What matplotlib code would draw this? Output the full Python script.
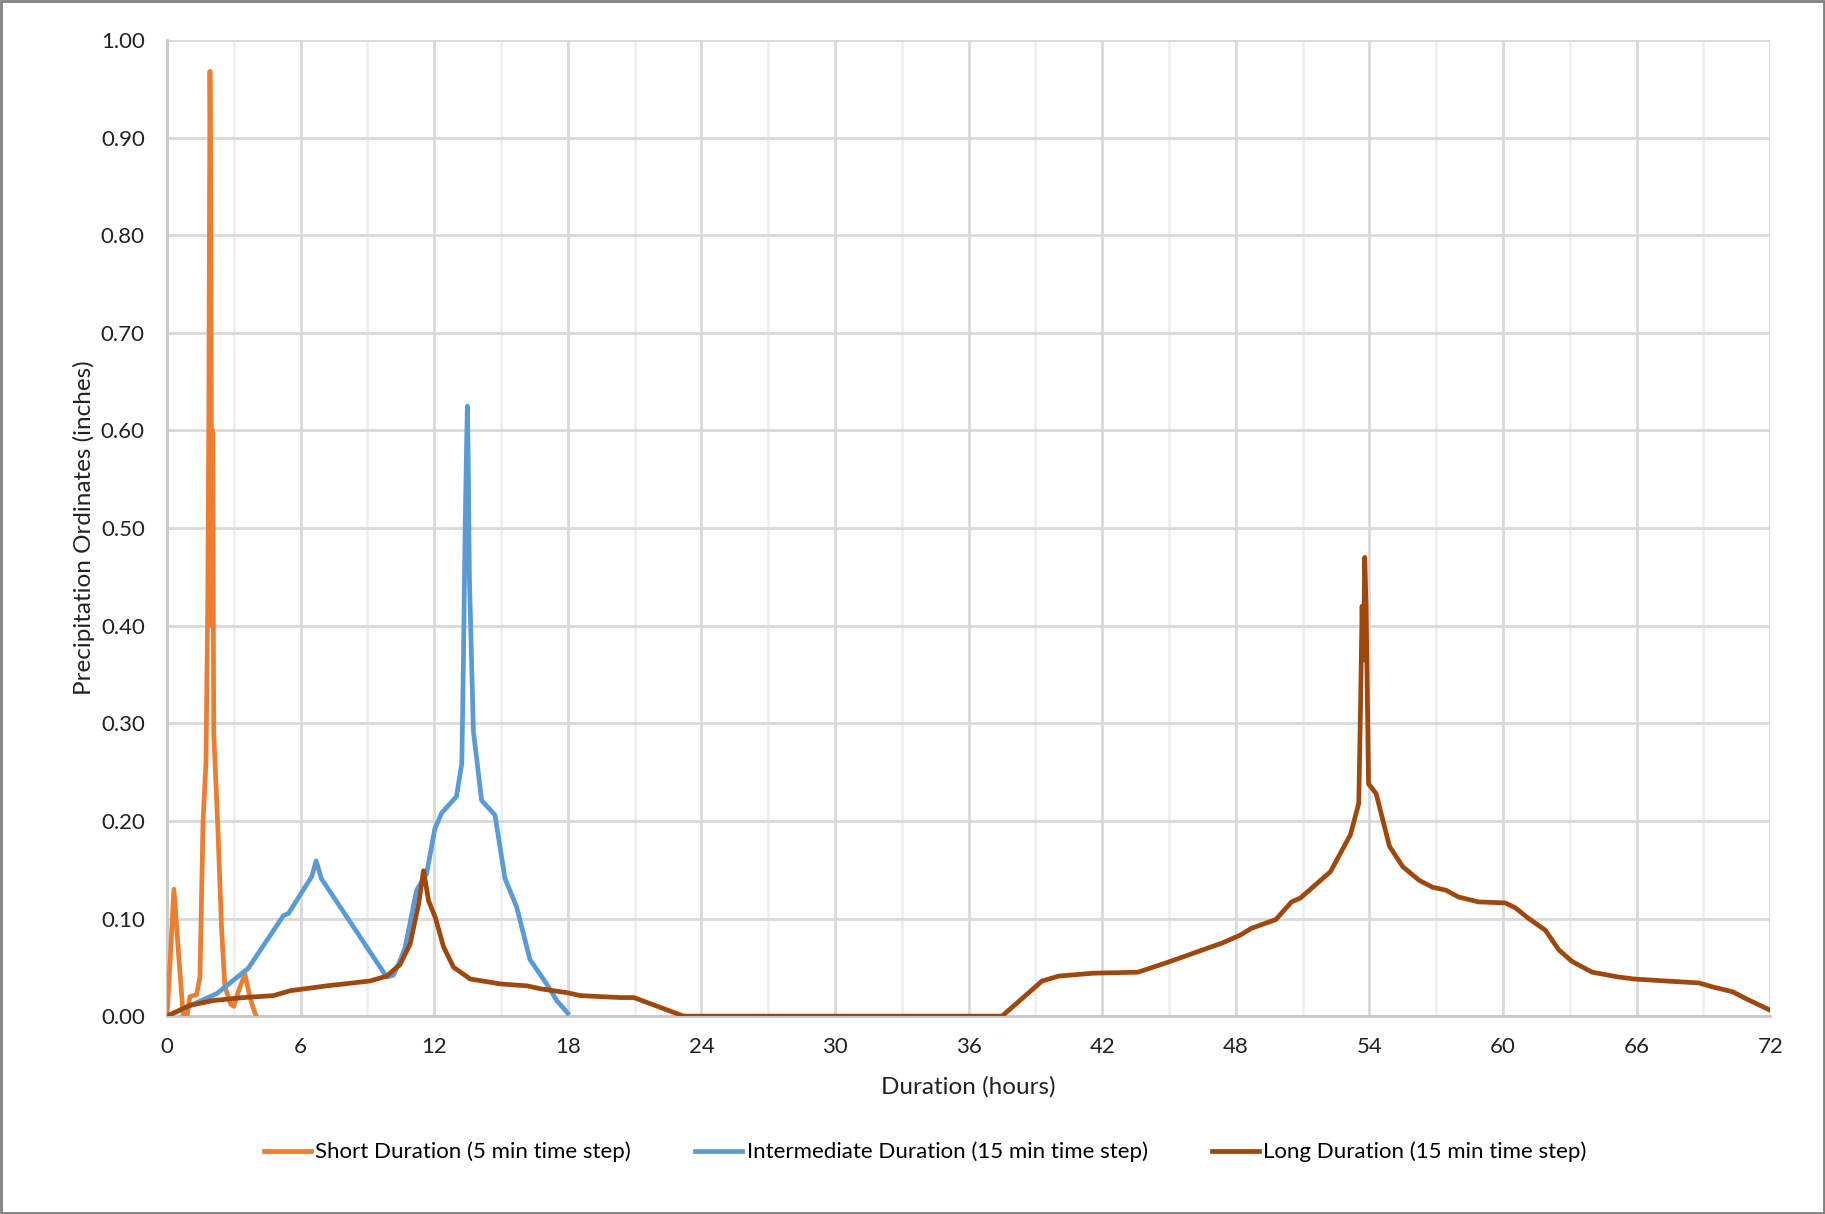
import matplotlib.pyplot as plt
from matplotlib.ticker import MultipleLocator, FormatStrFormatter

plt.rcParams['font.family'] = ['Lato', 'DejaVu Sans']

# Short duration storm (hours, inches)
short_h = [0.0, 0.15, 0.31, 0.5, 0.73, 0.9, 1.03, 1.33, 1.48, 1.62, 1.75, 1.83, 1.88,
           1.93, 1.97, 2.01, 2.05, 2.1, 2.28, 2.45, 2.6, 2.87, 3.0, 3.2, 3.5, 3.7, 3.82, 4.0]
short_v = [0.0, 0.06, 0.13, 0.07, 0.0, 0.0, 0.02, 0.022, 0.04, 0.2, 0.26, 0.42, 0.62,
           0.968, 0.84, 0.40, 0.60, 0.29, 0.195, 0.09, 0.03, 0.012, 0.01, 0.025, 0.043, 0.022, 0.012, 0.0]

# Intermediate duration storm
inter_h = [0.0, 2.23, 3.65, 5.23, 5.45, 6.5, 6.7, 6.93, 9.87, 10.17, 10.47, 10.69,
           11.21, 11.66, 12.03, 12.33, 13.0, 13.24, 13.31, 13.39, 13.45, 13.49, 13.54,
           13.58, 13.76, 14.13, 14.73, 15.18, 15.7, 16.3, 17.05, 17.5, 18.0]
inter_v = [0.0, 0.023, 0.049, 0.103, 0.105, 0.143, 0.159, 0.141, 0.040, 0.042, 0.057, 0.07,
           0.129, 0.146, 0.192, 0.208, 0.225, 0.259, 0.36, 0.50, 0.58, 0.625, 0.55,
           0.45, 0.292, 0.221, 0.206, 0.141, 0.112, 0.058, 0.033, 0.016, 0.003]

# Long duration storm
long_h = [0.0, 1.03, 2.08, 3.43, 4.78, 5.53, 7.17, 9.12, 9.87, 10.47, 10.92, 11.3, 11.52,
          11.75, 12.05, 12.42, 12.87, 13.62, 14.97, 16.17, 16.77, 17.97, 18.57, 20.36, 20.97,
          23.2, 37.5, 39.3, 40.05, 41.6, 43.6, 44.8, 47.4, 48.2, 48.7, 49.8, 50.5, 50.9,
          52.25, 53.15, 53.52, 53.6, 53.67, 53.73, 53.79, 53.85, 53.96, 54.3, 54.9, 55.5,
          56.24, 56.84, 57.44, 58.0, 58.9, 60.1, 60.55, 61.15, 61.9, 62.5, 63.1, 64.0, 65.2,
          65.9, 67.3, 68.8, 69.4, 70.3, 70.9, 72.0]
long_v = [0.0, 0.011, 0.016, 0.019, 0.021, 0.026, 0.031, 0.036, 0.041, 0.053, 0.074, 0.115,
          0.149, 0.118, 0.101, 0.071, 0.050, 0.038, 0.033, 0.031, 0.028, 0.024, 0.021, 0.019,
          0.019, 0.0, 0.0, 0.036, 0.041, 0.044, 0.045, 0.054, 0.075, 0.083, 0.09, 0.099,
          0.117, 0.121, 0.148, 0.186, 0.218, 0.317, 0.42, 0.365, 0.47, 0.42, 0.238, 0.228,
          0.174, 0.153, 0.139, 0.132, 0.129, 0.122, 0.117, 0.116, 0.111, 0.1, 0.088, 0.068,
          0.056, 0.045, 0.040, 0.038, 0.036, 0.034, 0.030, 0.025, 0.018, 0.006]

fig = plt.figure(figsize=(18.25, 12.14), dpi=100)
ax = fig.add_axes([0.0915, 0.163, 0.8785, 0.804])

lw = 3.4
ax.plot(short_h, short_v, color='#ED7D31', lw=lw, label='Short Duration (5 min time step)',
        zorder=3, solid_joinstyle='round')
ax.plot(inter_h, inter_v, color='#5B9BD5', lw=lw, label='Intermediate Duration (15 min time step)',
        zorder=3, solid_joinstyle='round')
ax.plot(long_h, long_v, color='#9E480E', lw=lw, label='Long Duration (15 min time step)',
        zorder=4, solid_joinstyle='round')

ax.set_xlim(0, 72)
ax.set_ylim(0, 1.0)
ax.xaxis.set_major_locator(MultipleLocator(6))
ax.xaxis.set_minor_locator(MultipleLocator(3))
ax.yaxis.set_major_locator(MultipleLocator(0.1))
ax.yaxis.set_major_formatter(FormatStrFormatter('%.2f'))

ax.grid(which='major', axis='both', color='#d9d9d9', lw=2.0, zorder=0)
ax.grid(which='minor', axis='x', color='#efefef', lw=2.0, zorder=0)
ax.set_axisbelow(True)

for s in ['top', 'right']:
    ax.spines[s].set_visible(False)
for s in ['left', 'bottom']:
    ax.spines[s].set_color('#c8c8c8')
    ax.spines[s].set_linewidth(2.0)

ax.tick_params(which='both', length=0, labelsize=16, colors='#222222')
ax.tick_params(axis='y', pad=16)
ax.tick_params(axis='x', pad=15)
ax.set_xlabel('Duration (hours)', fontsize=17.5, color='#222222', labelpad=14)
ax.set_ylabel('Precipitation Ordinates (inches)', fontsize=17.5, color='#222222', labelpad=4)

fig.legend(loc='center', bbox_to_anchor=(0.507, 0.051), ncol=3, frameon=False,
           fontsize=16, handlelength=2.1, handletextpad=0.2, columnspacing=2.9)

# grey frame around the whole figure
fig.patches.append(plt.Rectangle((0.0005, 0.0008), 0.999, 0.9984, transform=fig.transFigure,
                                 fill=False, edgecolor='#808080', lw=2.0))

fig.savefig('out.png', dpi=100)
